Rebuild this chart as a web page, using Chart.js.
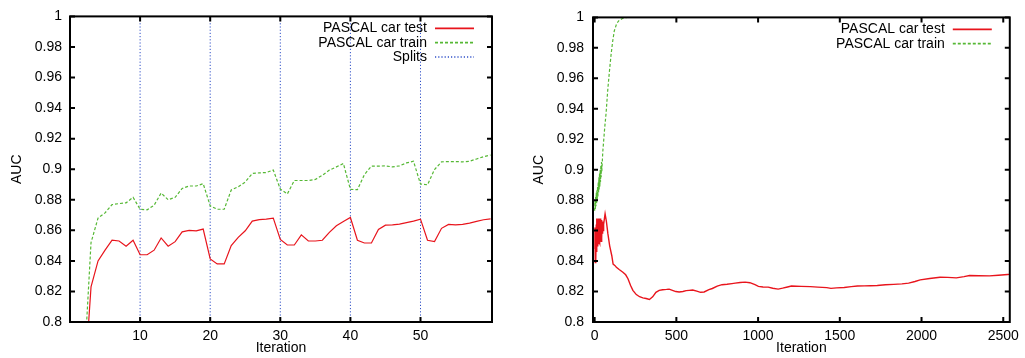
<!DOCTYPE html>
<html>
<head>
<meta charset="utf-8">
<script src="https://cdn.jsdelivr.net/npm/chart.js@4/dist/chart.umd.min.js"></script>
<style>
html, body { margin: 0; padding: 0; background: #fff; }
#wrap { display: flex; width: 1025px; height: 358px; }
canvas { display: block; }
</style>
</head>
<body>
<div id="wrap">
    <canvas id="leftChart" width="512" height="358"></canvas>
    <canvas id="rightChart" width="513" height="358"></canvas>
</div>
<script>
// Left plot: AUC per iteration (first 60 iterations)
const leftIters = [2, 3, 4, 5, 6, 7, 8, 9, 10, 11, 12, 13, 14, 15, 16, 17, 18, 19, 20,
    21, 22, 23, 24, 25, 26, 27, 28, 29, 30, 31, 32, 33, 34, 35, 36, 37, 38, 39, 40,
    41, 42, 43, 44, 45, 46, 47, 48, 49, 50, 51, 52, 53, 54, 55, 56, 57, 58, 59, 60];
const leftTest = [0.755, 0.823, 0.840, 0.847, 0.8535, 0.853, 0.8496, 0.8535, 0.844, 0.844,
    0.847, 0.855, 0.8496, 0.8526, 0.859, 0.860, 0.8597, 0.8608, 0.8413, 0.838,
    0.838, 0.850, 0.8554, 0.8597, 0.866, 0.867, 0.8673, 0.868, 0.854, 0.8504,
    0.8504, 0.857, 0.853, 0.853, 0.8535, 0.8587, 0.863, 0.8658, 0.8684, 0.8535,
    0.8517, 0.8517, 0.8606, 0.8634, 0.8636, 0.864, 0.865, 0.866, 0.8673, 0.8535,
    0.8526, 0.8613, 0.8639, 0.8636, 0.8639, 0.8647, 0.8658, 0.8669, 0.8675];
const leftTrain = [0.769, 0.852, 0.868, 0.8714, 0.8768, 0.8775, 0.878, 0.8816, 0.8738, 0.8734,
    0.8764, 0.8844, 0.880, 0.8816, 0.8874, 0.889, 0.889, 0.8905, 0.876, 0.8738,
    0.8738, 0.8864, 0.8885, 0.8916, 0.8972, 0.8976, 0.8978, 0.8994, 0.887, 0.8838,
    0.8926, 0.8926, 0.8926, 0.8933, 0.896, 0.8994, 0.9015, 0.9037, 0.8868, 0.8866,
    0.8965, 0.902, 0.902, 0.9022, 0.9015, 0.9022, 0.9041, 0.9052, 0.8903, 0.8898,
    0.8998, 0.9048, 0.905, 0.905, 0.9048, 0.9052, 0.9067, 0.9082, 0.9093];
const splitIters = [10, 20, 30, 40, 50];
const leftXTicks = [10, 20, 30, 40, 50];

// Right plot: AUC over all iterations
const rightTestIters = [0, 2, 4, 6, 8, 10, 12, 14, 16, 18, 20, 22, 24, 26, 28, 30, 32, 34, 36, 38,
    40, 42, 44, 46, 48, 50, 52, 54, 56, 60, 64, 72, 81, 92, 105, 113, 125, 133, 150, 173,
    190, 204, 220, 234, 255, 275, 295, 315, 335, 355, 375, 395, 416, 440, 456, 476, 497, 517, 540, 560,
    578, 600, 625, 648, 670, 699, 720, 750, 779, 810, 840, 860, 890, 921, 950, 981, 1002, 1030, 1062, 1090,
    1123, 1150, 1180, 1204, 1264, 1320, 1365, 1420, 1446, 1480, 1527, 1570, 1608, 1650, 1688, 1729, 1779, 1830, 1880, 1921,
    1960, 1992, 2050, 2113, 2160, 2213, 2260, 2294, 2350, 2416, 2470, 2527, 2540];
const rightTest = [0.848, 0.862, 0.839, 0.858, 0.840, 0.864, 0.846, 0.868, 0.850, 0.867,
    0.852, 0.868, 0.851, 0.867, 0.853, 0.868, 0.852, 0.867, 0.854, 0.868,
    0.853, 0.867, 0.855, 0.866, 0.858, 0.866, 0.860, 0.866, 0.864, 0.868, 0.871, 0.866, 0.858, 0.850, 0.8435, 0.838, 0.837, 0.836, 0.8345, 0.8327,
    0.831, 0.8284, 0.824, 0.8208, 0.818, 0.8166, 0.8158, 0.8154, 0.8148, 0.8165, 0.8195, 0.8208, 0.8212, 0.8214, 0.8216, 0.8208, 0.8200, 0.8197, 0.8200, 0.8206,
    0.8208, 0.8210, 0.8203, 0.8195, 0.8197, 0.8212, 0.8220, 0.8236, 0.8245, 0.8248, 0.8252, 0.8255, 0.8259, 0.8262, 0.8258, 0.8245, 0.8234, 0.8230, 0.8229, 0.8222,
    0.8216, 0.8222, 0.8230, 0.8236, 0.8234, 0.8232, 0.8229, 0.8226, 0.8221, 0.8224, 0.8227, 0.8232, 0.8236, 0.8237, 0.8238, 0.8240, 0.8245, 0.8247, 0.8250, 0.8255,
    0.8266, 0.8277, 0.8286, 0.8294, 0.8293, 0.8290, 0.8298, 0.8305, 0.8304, 0.8303, 0.8307, 0.8312, 0.8313];
const rightTrainIters = [0, 2, 4, 6, 8, 10, 12, 14, 16, 18, 20, 22, 24, 26, 28, 30, 32, 34, 36, 38,
    40, 42, 44, 50, 56, 62, 70, 80, 90, 100, 110, 120, 135, 150, 170, 200, 2540];
const rightTrain = [0.873, 0.880, 0.874, 0.882, 0.876, 0.885, 0.878, 0.887, 0.880, 0.889,
    0.882, 0.892, 0.885, 0.895, 0.887, 0.898, 0.889, 0.900, 0.892, 0.903,
    0.895, 0.905, 0.899, 0.912, 0.920, 0.928, 0.937, 0.952, 0.964, 0.975, 0.984, 0.991, 0.996, 0.998, 0.9993, 1.0, 1.0];
const rightXTicks = [0, 500, 1000, 1500, 2000, 2500];

const yTicks = [0.8, 0.82, 0.84, 0.86, 0.88, 0.9, 0.92, 0.94, 0.96, 0.98, 1];

Chart.defaults.font.family = "'Liberation Sans', Arial, sans-serif";
Chart.defaults.font.size = 14;
Chart.defaults.color = '#000';

function toPoints(xs, ys) {
    return xs.map((x, i) => ({ x: x, y: ys[i] }));
}

// gnuplot style frame, inward ticks and key drawn on top of the data
const framePlugin = {
    id: 'frame',
    afterDatasetsDraw(chart) {
        const { ctx, chartArea: a, scales } = chart;
        ctx.save();
        ctx.strokeStyle = '#000';
        ctx.lineWidth = 2;
        ctx.beginPath();
        scales.x.ticks.forEach(t => {
            const px = scales.x.getPixelForValue(t.value);
            ctx.moveTo(px, a.bottom); ctx.lineTo(px, a.bottom - 5);
            ctx.moveTo(px, a.top); ctx.lineTo(px, a.top + 5);
        });
        scales.y.ticks.forEach(t => {
            const py = scales.y.getPixelForValue(t.value);
            ctx.moveTo(a.left, py); ctx.lineTo(a.left + 5, py);
            ctx.moveTo(a.right, py); ctx.lineTo(a.right - 5, py);
        });
        ctx.stroke();
        ctx.strokeRect(a.left, a.top, a.right - a.left, a.bottom - a.top);

        // key, top right inside the plot
        ctx.font = "14px 'Liberation Sans', Arial, sans-serif";
        ctx.textAlign = 'right';
        ctx.textBaseline = 'middle';
        ctx.fillStyle = '#000';
        chart.data.datasets.forEach((ds, i) => {
            const y = a.top + 12 + i * 14.3;
            ctx.fillText(ds.label, a.right - 65, y);
            ctx.beginPath();
            ctx.strokeStyle = ds.borderColor;
            ctx.lineWidth = ds.borderWidth + 0.5;
            ctx.setLineDash(ds.borderDash || []);
            ctx.moveTo(a.right - 57, y);
            ctx.lineTo(a.right - 18, y);
            ctx.stroke();
            ctx.setLineDash([]);
        });
        ctx.restore();
    }
};

function makeScales(xMin, xMax, xTicks, yWidth, yTitlePad, yTickPad) {
    return {
        x: {
            type: 'linear',
            min: xMin,
            max: xMax,
            grid: { display: false, drawTicks: false },
            border: { display: false },
            ticks: { padding: 6, maxRotation: 0, autoSkip: false, callback: v => String(v) },
            afterBuildTicks: s => { s.ticks = xTicks.map(v => ({ value: v })); },
            afterFit: s => { s.height = 36; },
            title: { display: true, text: 'Iteration', padding: { top: 0, bottom: 1 } }
        },
        y: {
            type: 'linear',
            min: yTicks[0],
            max: yTicks[yTicks.length - 1],
            grid: { display: false, drawTicks: false },
            border: { display: false },
            ticks: { padding: yTickPad, callback: v => String(+v.toFixed(2)) },
            afterBuildTicks: s => { s.ticks = yTicks.map(v => ({ value: v })); },
            afterFit: s => { s.width = yWidth; },
            title: { display: true, text: 'AUC', padding: { top: yTitlePad, bottom: 0 } }
        }
    };
}

function baseOptions(scales, padRight) {
    return {
        responsive: false,
        animation: false,
        events: [],
        layout: { padding: { left: 0, top: 14, right: padRight, bottom: 0 } },
        elements: { point: { radius: 0 }, line: { tension: 0 } },
        plugins: { legend: { display: false }, tooltip: { enabled: false } },
        scales: scales
    };
}

const splitPoints = [];
splitIters.forEach(s => {
    splitPoints.push({ x: s, y: yTicks[0] }, { x: s, y: yTicks[yTicks.length - 1] }, { x: s, y: null });
});

new Chart(document.getElementById('leftChart'), {
    type: 'line',
    data: {
        datasets: [{
            label: 'PASCAL car test',
            data: toPoints(leftIters, leftTest),
            borderColor: '#e8141c',
            borderWidth: 1.2
        }, {
            label: 'PASCAL car train',
            data: toPoints(leftIters, leftTrain),
            borderColor: '#56b835',
            borderWidth: 1.2,
            borderDash: [3, 2]
        }, {
            label: 'Splits',
            data: splitPoints,
            borderColor: '#3050c8',
            borderWidth: 1,
            borderDash: [1.2, 2],
            spanGaps: false
        }]
    },
    options: baseOptions(makeScales(0, 60.2, leftXTicks, 70, 8.6, 8), 20),
    plugins: [framePlugin]
});

new Chart(document.getElementById('rightChart'), {
    type: 'line',
    data: {
        datasets: [{
            label: 'PASCAL car test',
            data: toPoints(rightTestIters, rightTest),
            borderColor: '#e8141c',
            borderWidth: 1.4
        }, {
            label: 'PASCAL car train',
            data: toPoints(rightTrainIters, rightTrain),
            borderColor: '#56b835',
            borderWidth: 1.2,
            borderDash: [3, 2]
        }]
    },
    options: baseOptions(makeScales(-10, 2540, rightXTicks, 81, 19, 9), 11),
    plugins: [framePlugin]
});
</script>
</body>
</html>
